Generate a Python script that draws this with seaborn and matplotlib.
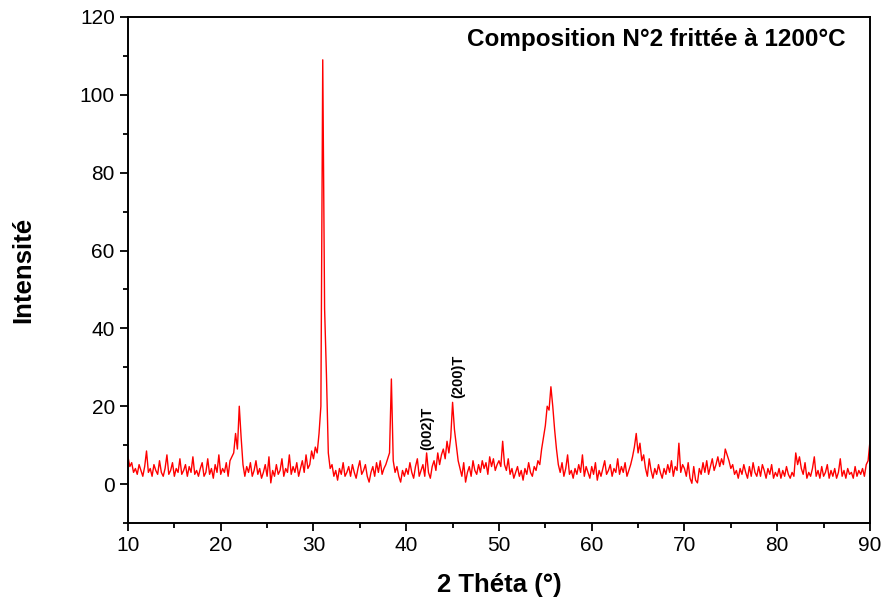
import numpy as np
import pandas as pd
import seaborn as sns
import matplotlib.pyplot as plt
from matplotlib.ticker import MultipleLocator

# 2-theta grid, 0.2 deg steps from 10 to 90
two_theta = np.round(np.arange(10.0, 90.0001, 0.2), 1)

# intensities, 10 values per 2 degrees
intensity = [
    7.0, 4.5, 5.5, 3.0, 4.0, 2.5, 5.0, 3.5, 2.0, 4.5,      # 10
    8.5, 3.0, 4.0, 2.0, 5.0, 3.5, 2.5, 6.0, 3.0, 2.0,      # 12
    4.0, 7.5, 2.5, 3.5, 5.5, 2.0, 4.0, 3.0, 6.5, 2.5,      # 14
    3.5, 5.0, 2.0, 4.5, 3.0, 7.0, 2.5, 3.5, 2.0, 4.0,      # 16
    5.5, 2.0, 3.0, 6.5, 2.5, 4.0, 1.5, 5.0, 3.0, 7.5,      # 18
    2.5, 4.0, 3.0, 5.5, 2.0, 6.0, 7.0, 8.0, 13.0, 9.0,     # 20
    20.0, 12.0, 5.0, 2.0, 4.5, 3.0, 5.5, 2.0, 3.5, 6.0,    # 22
    2.5, 4.0, 1.5, 3.0, 5.0, 2.0, 7.0, 0.3, 3.5, 2.0,      # 24
    5.0, 2.5, 3.5, 6.5, 2.0, 4.0, 3.0, 7.5, 2.5, 4.5,      # 26
    3.0, 5.5, 2.0, 4.0, 6.0, 3.0, 7.5, 4.0, 5.0, 8.5,      # 28
    6.5, 9.5, 8.0, 13.0, 20.0, 109.0, 45.0, 28.0, 8.0, 4.0,  # 30
    5.0, 2.0, 3.5, 1.0, 4.0, 2.5, 5.5, 2.0, 3.0, 4.5,      # 32
    2.0, 5.0, 3.0, 1.5, 4.0, 6.0, 2.5, 3.5, 5.0, 2.0,      # 34
    0.5, 3.0, 4.5, 2.0, 5.5, 3.0, 6.0, 2.5, 4.0, 5.0,      # 36
    6.5, 8.0, 27.0, 6.0, 3.0, 4.5, 2.0, 0.5, 3.5, 2.0,     # 38
    4.0, 2.5, 5.5, 3.0, 1.5, 4.5, 6.5, 2.0, 3.5, 5.0,      # 40
    2.0, 8.0, 3.0, 1.5, 4.5, 6.0, 3.5, 8.0, 5.0, 7.5,      # 42
    9.0, 6.5, 11.0, 8.0, 12.0, 21.0, 14.0, 10.0, 6.0, 4.0,  # 44
    2.0, 5.5, 0.5, 3.0, 4.5, 2.0, 6.0, 3.5, 2.5, 5.0,      # 46
    3.0, 6.0, 4.0, 5.5, 2.5, 7.0, 4.5, 6.5, 3.5, 5.0,      # 48
    6.0, 4.5, 11.0, 5.0, 3.5, 6.5, 2.5, 4.0, 1.5, 3.0,     # 50
    4.5, 2.0, 3.5, 1.0, 4.0, 2.5, 5.5, 3.0, 2.0, 4.5,      # 52
    3.5, 6.0, 5.0, 9.0, 12.0, 15.0, 20.0, 19.0, 25.0, 20.0,  # 54
    14.0, 9.0, 5.0, 3.0, 5.5, 2.0, 4.0, 7.5, 2.5, 3.5,     # 56
    1.5, 4.0, 2.5, 5.0, 3.0, 7.5, 2.0, 4.5, 3.0, 1.5,      # 58
    4.5, 2.5, 5.5, 1.0, 3.5, 2.0, 4.0, 6.0, 2.5, 3.5,      # 60
    5.0, 2.0, 4.0, 3.0, 6.5, 2.5, 4.5, 3.0, 5.5, 2.0,      # 62
    3.5, 5.0, 7.0, 9.5, 13.0, 8.0, 10.5, 6.0, 7.5, 4.0,    # 64
    2.0, 6.5, 3.5, 1.5, 4.0, 2.5, 5.0, 3.0, 1.5, 4.0,      # 66
    2.5, 5.0, 3.0, 6.0, 2.0, 4.5, 3.5, 10.5, 3.0, 5.0,     # 68
    4.0, 2.0, 5.5, 1.5, 0.2, 4.5, 1.0, 0.3, 4.0, 2.5,      # 70
    5.5, 3.0, 6.0, 2.5, 4.5, 6.5, 3.5, 5.0, 7.0, 4.5,      # 72
    6.5, 5.0, 9.0, 7.5, 6.0, 4.0, 5.0, 2.5, 3.5, 1.5,      # 74
    4.0, 2.5, 5.0, 3.0, 1.5, 4.5, 2.0, 5.5, 3.0, 2.0,      # 76
    4.5, 2.0, 5.0, 3.5, 1.5, 4.0, 2.5, 5.0, 1.5, 3.0,      # 78
    2.0, 4.0, 1.5, 3.5, 2.0, 4.5, 2.5, 1.5, 3.0, 2.0,      # 80
    8.0, 5.0, 7.0, 4.0, 2.5, 5.5, 1.5, 3.0, 2.0, 4.0,      # 82
    7.0, 2.0, 3.5, 1.5, 4.5, 2.0, 3.0, 5.0, 1.5, 3.5,      # 84
    2.0, 4.0, 1.5, 3.0, 6.5, 2.0, 3.5, 1.5, 4.0, 2.5,      # 86
    3.0, 1.5, 4.5, 2.0, 3.5, 2.5, 4.0, 2.0, 5.0, 6.0,      # 88
    11.0,                                                  # 90
]

peak_labels = ["(002)T", "(200)T"]
peak_x = [42.3, 45.6]
peak_y = [8.8, 22.0]

df = pd.DataFrame({"two_theta": two_theta, "intensity": intensity})

sns.set_style("ticks")
plt.rcParams["font.family"] = ["Liberation Sans", "DejaVu Sans"]
plt.rcParams["text.color"] = "black"
plt.rcParams["axes.labelcolor"] = "black"
plt.rcParams["xtick.color"] = "black"
plt.rcParams["ytick.color"] = "black"

fig = plt.figure(figsize=(8.85, 6.07), dpi=100)
ax = fig.add_axes([0.1446, 0.1384, 0.8384, 0.8336])

sns.lineplot(data=df, x="two_theta", y="intensity", ax=ax, color="red", linewidth=1.0)

ax.set_xlim(10, 90)
ax.set_ylim(-10, 120)
ax.xaxis.set_major_locator(MultipleLocator(10))
ax.xaxis.set_minor_locator(MultipleLocator(5))
ax.yaxis.set_major_locator(MultipleLocator(20))
ax.yaxis.set_minor_locator(MultipleLocator(10))
ax.tick_params(which="major", direction="out", length=6, width=1.3, labelsize=15)
ax.tick_params(which="minor", direction="out", length=3.5, width=1.3)
for side in ax.spines.values():
    side.set_linewidth(1.4)
    side.set_color("black")

ax.set_xlabel("2 Théta (°)", fontsize=18.5, fontweight="bold", labelpad=13)
ax.set_ylabel("Intensité", fontsize=18.5, fontweight="bold", labelpad=32)

ax.text(0.967, 0.955, "Composition N°2 frittée à 1200°C", transform=ax.transAxes,
        ha="right", va="center", fontsize=17.5, fontweight="bold")

for lab, px, py in zip(peak_labels, peak_x, peak_y):
    ax.text(px, py, lab, rotation=90, ha="center", va="bottom", fontsize=10.5, fontweight="bold")

fig.savefig("out.png", dpi=100)
